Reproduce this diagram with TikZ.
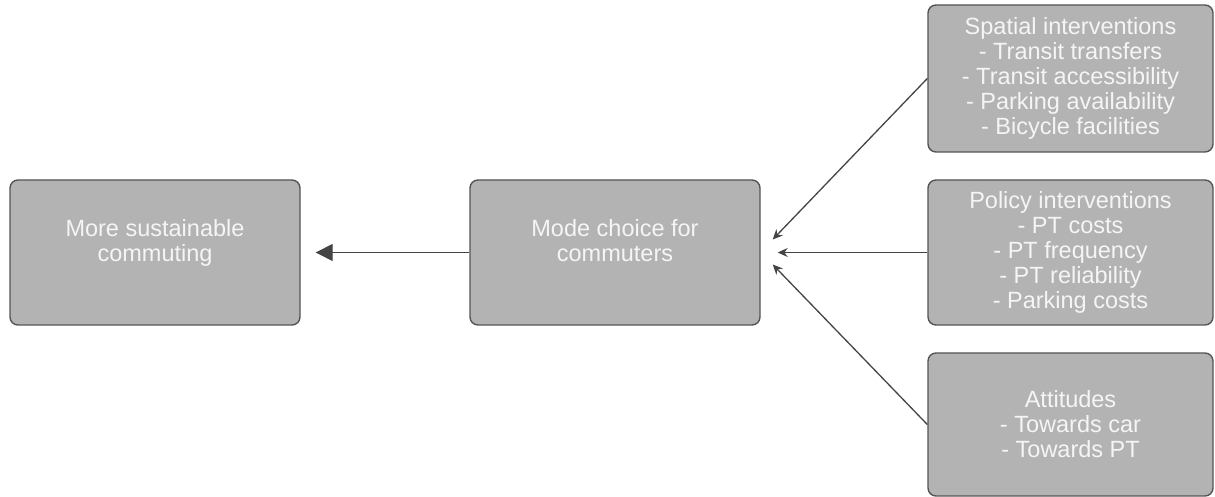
\documentclass[tikz,border=0pt]{standalone}
\usepackage{fontspec}
\setmainfont{Liberation Sans}
\usetikzlibrary{arrows.meta,positioning}
\definecolor{box_fill}{RGB}{179,179,179}
\definecolor{box_line}{RGB}{85,85,85}
\definecolor{arrow_line}{RGB}{68,68,68}

\begin{document}
\begin{tikzpicture}[
                x=1pt, y=1pt,
                every node/.style={inner sep=2pt},
                factor/.style={draw=box_line, fill=box_fill, line width=1.4pt, rounded corners=8pt, text=white!96!black, align=center, font=\fontsize{23.5}{25}\selectfont, minimum width=285pt, minimum height=145pt},
                outcome/.style={factor, minimum width=290pt},
                link_main/.style={arrow_line, line width=1.4pt, -{Triangle[length=17pt,width=17pt]}},
                link_in/.style={arrow_line, line width=1.3pt, -{Stealth[length=10pt,width=9pt]}}
            ]
                % Canvas
                \useasboundingbox (0,0) rectangle (1215,497);
                
                % Outcome and mode choice
                \node[outcome] (sust) at (155,244.5) {More sustainable \\ commuting \\ \mbox{}};
                \node[outcome] (mode) at (615,244.5) {Mode choice for \\ commuters \\ \mbox{}};
                
                % Influencing factors on the right
                \node[factor, minimum height=147pt] (spatial) at (1070.5,418.5) {Spatial interventions \\ - Transit transfers \\ - Transit accessibility \\ - Parking availability \\ - Bicycle facilities};
                \node[factor] (policy) at (1070.5,244.5) {Policy interventions \\ - PT costs \\ - PT frequency \\ - PT reliability \\ - Parking costs};
                \node[factor, minimum height=143pt] (attitude) at (1070.5,72.5) {Attitudes \\ - Towards car \\ - Towards PT};
                
                % Arrow end points (arrows stop short of the boxes)
                \coordinate (tip_main) at ([xshift=15pt]sust.east);
                \coordinate (tip_a) at ([xshift=12pt, yshift=13pt]mode.east);
                \coordinate (tip_b) at ([xshift=17pt]mode.east);
                \coordinate (tip_c) at ([xshift=12pt, yshift=-12pt]mode.east);
                
                % Links
                \draw[link_main] (mode.west) -- (tip_main);
                \draw[link_in] (spatial.west) -- (tip_a);
                \draw[link_in] (policy.west) -- (tip_b);
                \draw[link_in] (attitude.west) -- (tip_c);
            \end{tikzpicture}
\end{document}
